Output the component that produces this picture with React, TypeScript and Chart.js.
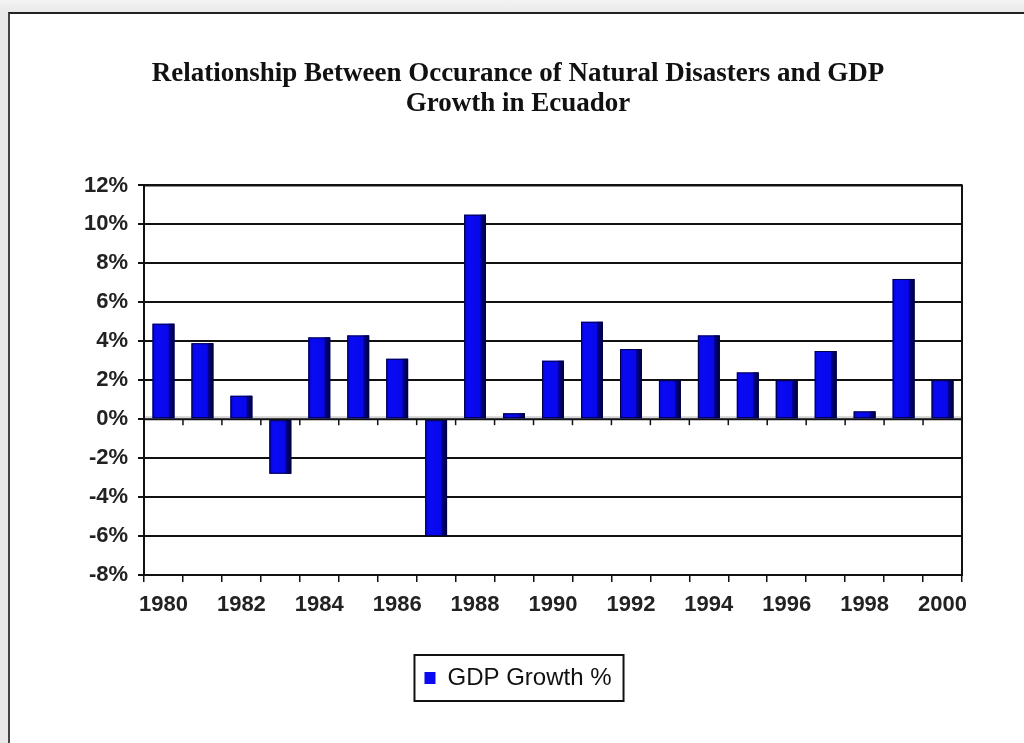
import React, { useEffect, useRef } from "react";
import { Chart, registerables } from "chart.js";

Chart.register(...registerables);

const years = [
  "1980", "1981", "1982", "1983", "1984", "1985", "1986", "1987", "1988", "1989", "1990",
  "1991", "1992", "1993", "1994", "1995", "1996", "1997", "1998", "1999", "2000",
];
const gdpGrowth = [
  4.9, 3.9, 1.2, -2.8, 4.2, 4.3, 3.1, -6.0, 10.5, 0.3, 3.0,
  5.0, 3.6, 2.0, 4.3, 2.4, 2.0, 3.5, 0.4, 7.2, 2.0,
];
const yMin = -8;
const yMax = 12;
const yStep = 2;
const titleLines = [
  "Relationship Between Occurance of Natural Disasters and GDP",
  "Growth in Ecuador",
];
const seriesLabel = "GDP Growth %";

const framePlugin = {
  id: "framePlugin",
  beforeDatasetsDraw(chart: any) {
    const { ctx, chartArea, scales } = chart;
    const y0 = scales.y.getPixelForValue(0);
    ctx.save();
    ctx.fillStyle = "#d4d4d4";
    ctx.fillRect(chartArea.left, y0 - 3, chartArea.right - chartArea.left, 3);
    ctx.strokeStyle = "#111";
    ctx.lineWidth = 2;
    ctx.beginPath();
    ctx.moveTo(chartArea.left, y0);
    ctx.lineTo(chartArea.right, y0);
    ctx.stroke();
    const n = years.length;
    const xs = scales.x;
    const step = xs.getPixelForValue(1) - xs.getPixelForValue(0);
    ctx.lineWidth = 1.5;
    for (let i = 0; i <= n; i++) {
      const px = xs.getPixelForValue(0) - step / 2 + i * step;
      ctx.beginPath();
      ctx.moveTo(px, y0);
      ctx.lineTo(px, y0 + 6);
      ctx.stroke();
    }
    ctx.restore();
  },
  afterDatasetsDraw(chart: any) {
    const { ctx, chartArea } = chart;
    const meta = chart.getDatasetMeta(0);
    ctx.save();
    meta.data.forEach((bar: any) => {
      const p = bar.getProps(["x", "y", "base", "width"], true);
      const left = p.x - p.width / 2;
      const right = p.x + p.width / 2;
      const top = Math.min(p.y, p.base);
      const h = Math.abs(p.y - p.base);
      const side = p.width * 0.26;
      const g = ctx.createLinearGradient(right - side, 0, right, 0);
      g.addColorStop(0, "#00009a");
      g.addColorStop(1, "#000033");
      ctx.fillStyle = g;
      ctx.fillRect(right - side, top, side, h);
      const g2 = ctx.createLinearGradient(left, 0, right - side, 0);
      g2.addColorStop(0, "rgba(0,0,120,0.55)");
      g2.addColorStop(0.25, "rgba(0,0,255,0)");
      g2.addColorStop(1, "rgba(0,0,200,0.25)");
      ctx.fillStyle = g2;
      ctx.fillRect(left, top, right - side - left, h);
      ctx.strokeStyle = "#000040";
      ctx.lineWidth = 1;
      ctx.strokeRect(left + 0.5, top + 0.5, p.width - 1, h - 1);
    });
    ctx.strokeStyle = "#111";
    ctx.lineWidth = 2;
    ctx.strokeRect(chartArea.left, chartArea.top, chartArea.right - chartArea.left, chartArea.bottom - chartArea.top);
    ctx.restore();
  },
  afterDraw(chart: any) {
    const { ctx } = chart;
    const boxes = chart.legend && chart.legend.legendHitBoxes;
    if (!boxes || !boxes.length) return;
    const b = boxes[0];
    ctx.save();
    ctx.strokeStyle = "#111";
    ctx.lineWidth = 2;
    ctx.strokeRect(b.left - 10, b.top - 11, b.width + 22, b.height + 22);
    ctx.restore();
  },
};

export default function App() {
  const ref = useRef<HTMLCanvasElement | null>(null);
  useEffect(() => {
    if (!ref.current) return;
    const chart = new Chart(ref.current, {
      type: "bar",
      data: {
        labels: years,
        datasets: [
          {
            label: seriesLabel,
            data: gdpGrowth,
            backgroundColor: "#0a0af2",
            borderColor: "#000040",
            borderWidth: 0,
            barPercentage: 0.56,
            categoryPercentage: 1,
          },
        ],
      },
      options: {
        responsive: false,
        animation: false,
        layout: { padding: { left: 74, right: 62, top: 46, bottom: 43 } },
        plugins: {
          title: {
            display: true,
            text: titleLines,
            color: "#111",
            font: { family: "'Liberation Serif', 'DejaVu Serif', serif", size: 27, weight: "bold", lineHeight: 1.12 },
            padding: { top: 13, bottom: 66 },
          },
          legend: {
            display: true,
            position: "bottom",
            labels: {
              color: "#111",
              font: { family: "'Liberation Sans', Arial, sans-serif", size: 24 },
              boxWidth: 11,
              boxHeight: 12,
              padding: 20,
            },
          },
          tooltip: { enabled: false },
        },
        scales: {
          x: {
            offset: true,
            grid: {
              display: true,
              offset: true,
              drawOnChartArea: false,
              drawTicks: true,
              tickLength: 7,
              color: "#111",
              lineWidth: 1.5,
            },
            border: { display: true, color: "#111", width: 2 },
            ticks: {
              autoSkip: false,
              maxRotation: 0,
              padding: 10,
              color: "#222",
              font: { family: "'Liberation Sans', Arial, sans-serif", size: 22, weight: "bold" },
              callback: (_v: any, i: number) => (i % 2 === 0 ? years[i] : ""),
            },
            afterFit: (s: any) => { s.height = 71; },
          },
          y: {
            min: yMin,
            max: yMax,
            grid: {
              color: "#111",
              lineWidth: 2,
              tickLength: 6,
              drawTicks: true,
            },
            border: { display: true, color: "#111", width: 2 },
            ticks: {
              stepSize: yStep,
              padding: 10,
              color: "#222",
              font: { family: "'Liberation Sans', Arial, sans-serif", size: 22, weight: "bold" },
              callback: (v: any) => `${v}%`,
            },
            afterFit: (s: any) => { s.width = 70; },
          },
        },
      },
      plugins: [framePlugin],
    });
    return () => chart.destroy();
  }, []);

  return (
    <div style={{ position: "absolute", left: 0, top: 0, width: 1024, height: 743, overflow: "hidden", background: "linear-gradient(#f3f3f3, #e9e9e9 12px)" }}>
      <div style={{ position: "absolute", left: 8, top: 12, right: 0, bottom: 0, background: "#fff", borderLeft: "2px solid #444", borderTop: "2px solid #222" }} />
      <canvas ref={ref} width={1024} height={743} style={{ position: "absolute", left: 0, top: 0, width: 1024, height: 743 }} />
    </div>
  );
}
